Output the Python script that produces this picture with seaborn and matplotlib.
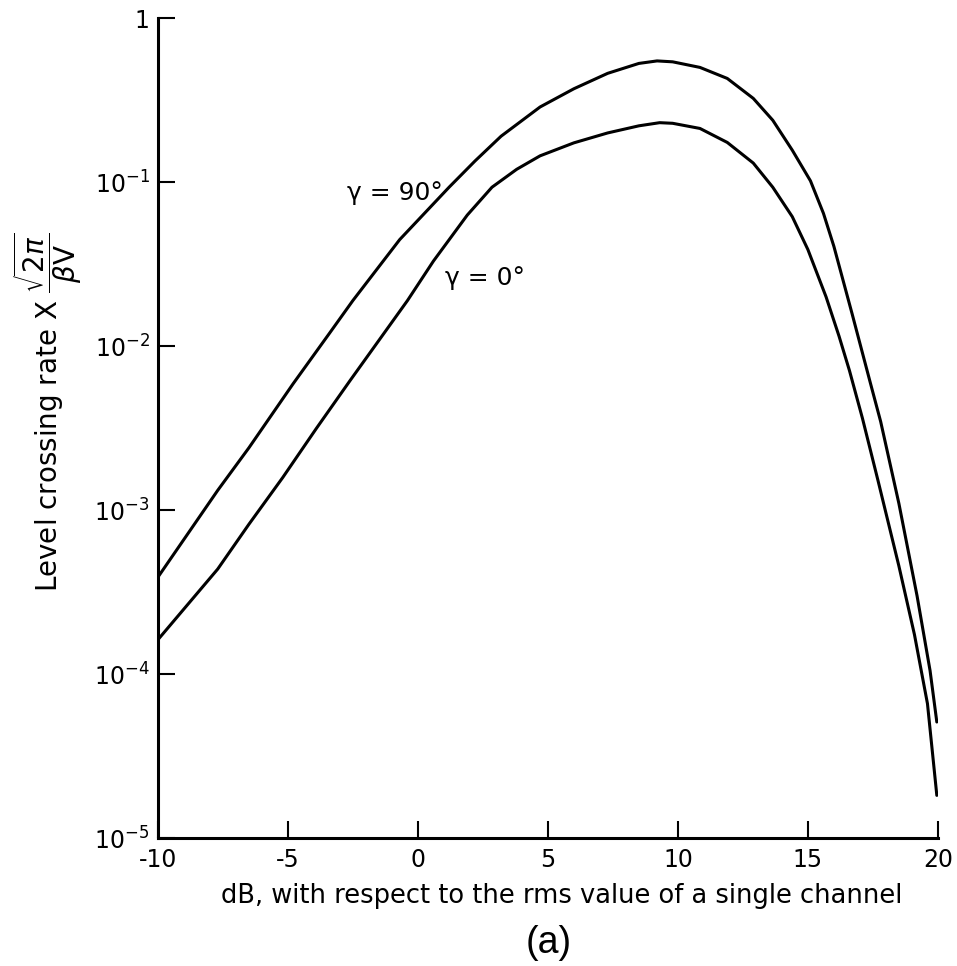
import numpy as np
import pandas as pd
import matplotlib
matplotlib.use("Agg")
import matplotlib.pyplot as plt
import seaborn as sns

# values (x in dB, y = level crossing rate x sqrt(2pi)/(beta V))
db_90 = [-10, -7.7, -6.5, -4.8, -3.4, -2.5, -0.7, 1.2, 2.2, 3.2, 4.7, 6.0, 7.3, 8.5, 9.2, 9.8,
         10.85, 11.9, 12.9, 13.65, 14.4, 15.1, 15.6, 16.0, 16.7, 17.4, 17.8, 18.5, 19.2, 19.7, 19.96]
rate_90 = [3.9e-4, 1.32e-3, 2.4e-3, 5.9e-3, 0.012, 0.019, 0.0447, 0.0933, 0.135, 0.191, 0.288, 0.372, 0.462, 0.531, 0.55, 0.543,
           0.502, 0.43, 0.325, 0.239, 0.157, 0.102, 0.0646, 0.0407, 0.0158, 6.0e-3, 3.47e-3, 1.1e-3, 3.0e-4, 1.05e-4, 5.1e-5]

db_0 = [-10, -7.7, -6.5, -5.2, -3.9, -2.6, -0.4, 0.6, 1.9, 2.85, 3.8, 4.7, 6.0, 7.3, 8.5, 9.3, 9.8,
        10.85, 11.9, 12.9, 13.65, 14.4, 15.0, 15.7, 16.2, 16.6, 17.1, 17.7, 18.5, 19.1, 19.6, 19.96]
rate_0 = [1.62e-4, 4.37e-4, 8.2e-4, 1.58e-3, 3.16e-3, 6.2e-3, 0.019, 0.0331, 0.0631, 0.0933, 0.120, 0.145, 0.174, 0.20, 0.221, 0.231, 0.229,
          0.213, 0.175, 0.131, 0.0933, 0.0617, 0.0389, 0.020, 0.0115, 7.1e-3, 3.63e-3, 1.51e-3, 4.57e-4, 1.74e-4, 6.6e-5, 1.82e-5]

x_ticks = [-10, -5, 0, 5, 10, 15, 20]
y_ticks = [1e-5, 1e-4, 1e-3, 1e-2, 1e-1, 1]
y_ticklabels = ["$10^{-5}$", "$10^{-4}$", "$10^{-3}$", "$10^{-2}$", "$10^{-1}$", "1"]

sns.set_theme(style="ticks")
plt.rcParams["font.family"] = ["DejaVu Sans"]
plt.rcParams["axes.unicode_minus"] = False
plt.rcParams["text.color"] = "black"
plt.rcParams["axes.labelcolor"] = "black"
plt.rcParams["xtick.color"] = "black"
plt.rcParams["ytick.color"] = "black"

fig = plt.figure(figsize=(9.57, 9.66), dpi=100)
ax = fig.add_axes([0.165, 0.1325, 0.815, 0.8485])

df = pd.concat([
    pd.DataFrame({"dB": db_90, "rate": rate_90, "gamma": "90"}),
    pd.DataFrame({"dB": db_0, "rate": rate_0, "gamma": "0"}),
])
sns.lineplot(data=df, x="dB", y="rate", units="gamma", estimator=None,
             color="black", linewidth=2.2, ax=ax)

ax.set_yscale("log")
ax.set_xlim(-10, 20)
ax.set_ylim(1e-5, 1)
ax.set_xticks(x_ticks)
ax.set_xticklabels([str(t) for t in x_ticks])
ax.set_yticks(y_ticks)
ax.set_yticklabels(y_ticklabels)
ax.minorticks_off()
ax.tick_params(direction="in", length=12, width=1.5, labelsize=17, color="black")
ax.tick_params(axis="x", pad=7)
ax.tick_params(axis="y", pad=6)
sns.despine(ax=ax)
for s in ["left", "bottom"]:
    ax.spines[s].set_linewidth(2.2)
    ax.spines[s].set_color("black")

ax.set_xlabel("dB, with respect to the rms value of a single channel", fontsize=18.5)
ax.xaxis.set_label_coords(0.518, -0.055)
ax.set_ylabel(r"Level crossing rate X $\dfrac{\sqrt{2\pi}}{\beta \mathrm{V}}$", fontsize=20)
ax.yaxis.set_label_coords(-0.095, 0.52)

ax.text(-0.9, 0.086, "γ = 90°", fontsize=18, ha="center", va="center")
ax.text(2.6, 0.026, "γ = 0°", fontsize=18, ha="center", va="center")

fig.text(0.573, 0.005, "(a)", fontsize=27, ha="center", va="bottom", family=["Liberation Sans"])

fig.savefig("out.png", dpi=100, facecolor="white")
